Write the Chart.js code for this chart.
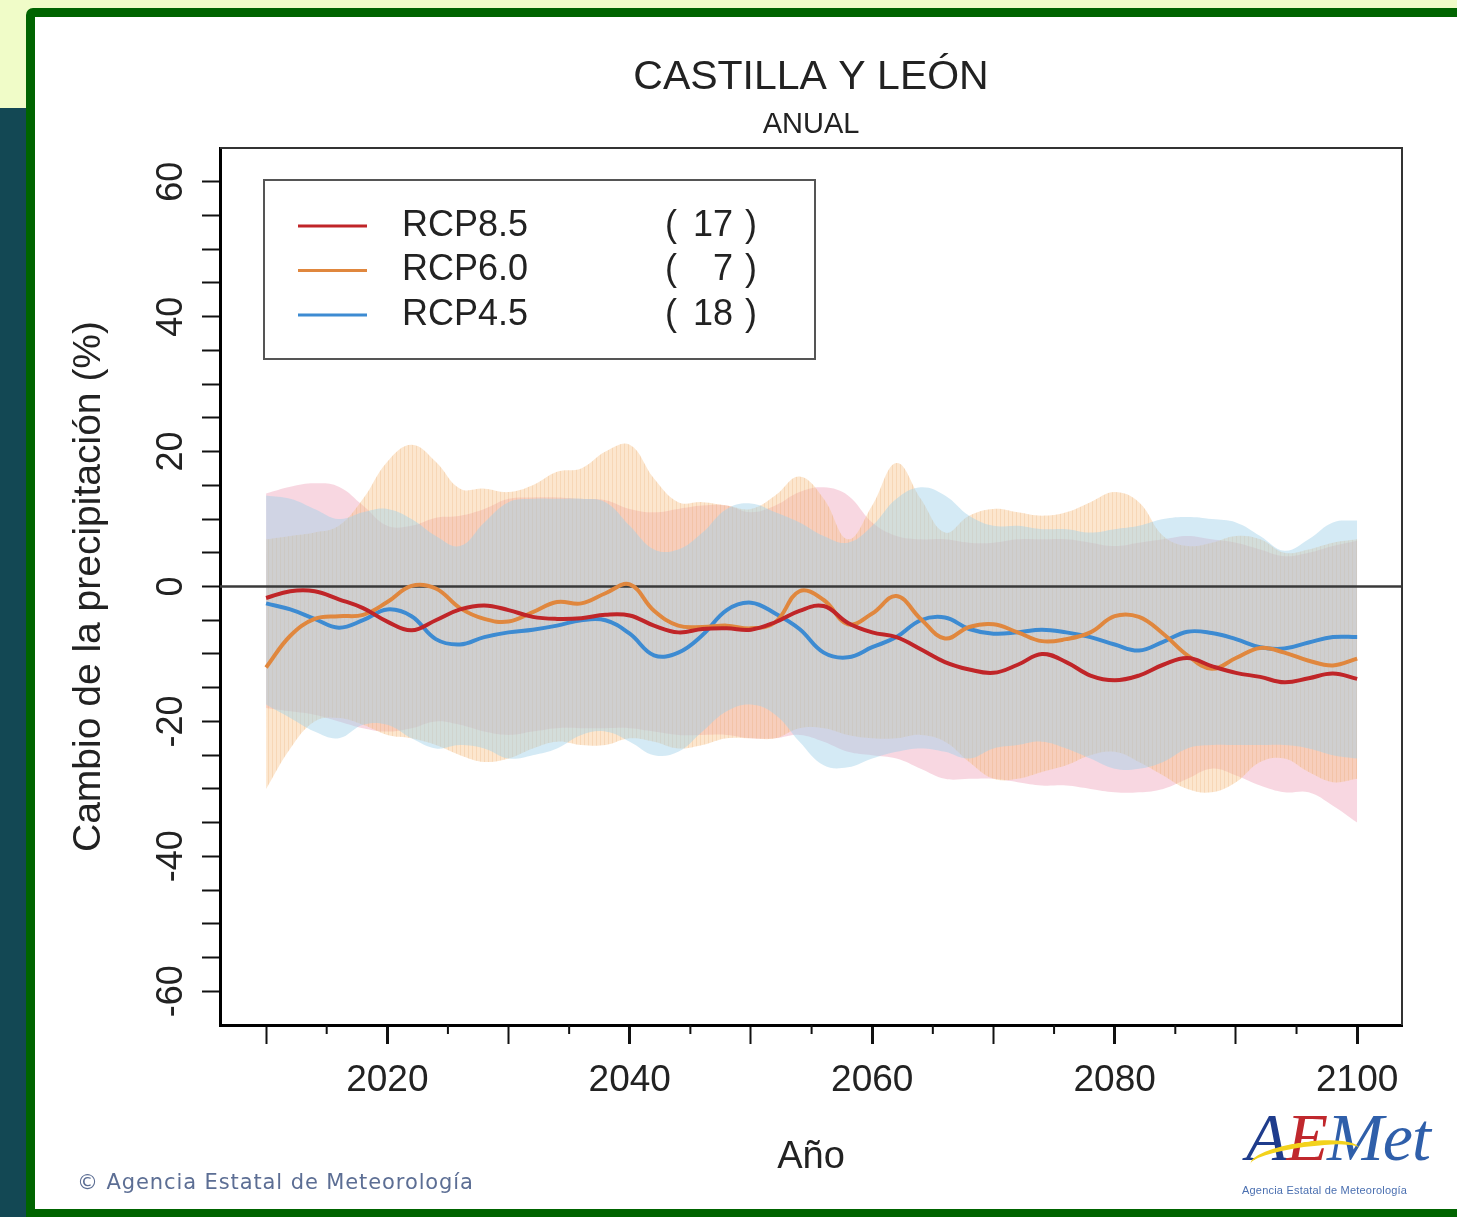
<!DOCTYPE html>
<html>
<head>
<meta charset="utf-8">
<script src="https://cdn.jsdelivr.net/npm/chart.js@4"></script>
<style>
  html, body { margin:0; padding:0; }
  body { width:1457px; height:1217px; background:#f0fcc8; position:relative; overflow:hidden; font-family:'Liberation Sans', Arial, sans-serif; }
  #strip { position:absolute; left:0; top:108px; width:30px; height:1200px; background:#134854; }
  #panel { position:absolute; left:26px; top:8px; width:1460px; height:1210px; box-sizing:border-box; border:9px solid #006400; border-radius:7px 0 0 0; background:#fff; }
  #chart { position:absolute; left:0; top:0; }
  #copy { position:absolute; left:77px; top:1170px; font:21px 'DejaVu Sans', sans-serif; color:#5c6e94; letter-spacing:0.9px; }
  #logo { position:absolute; left:1240px; top:1098px; width:210px; height:110px; }
  #logo .word { position:absolute; left:6px; top:0; font:italic 68px 'Liberation Serif', serif; letter-spacing:-1px; }
  #logo .swoosh { position:absolute; left:10px; top:44px; width:110px; height:24px; border-top:5px solid #f3d21c; border-radius:50%; transform:rotate(-8deg); }
  #logo .sub { position:absolute; left:2px; top:86px; font:11px 'Liberation Sans', sans-serif; color:#4a6fb0; white-space:nowrap; letter-spacing:0.2px; }
</style>
</head>
<body>
<div id="strip"></div>
<div id="panel"></div>
<canvas id="chart" width="1457" height="1217"></canvas>
<div id="copy">© Agencia Estatal de Meteorología</div>
<div id="logo">
  <div class="word"><span style="color:#1f3c8c">A</span><span style="color:#c0282d">E</span><span style="color:#2f5faa">Met</span></div>
  <div class="swoosh"></div>
  <div class="sub">Agencia Estatal de Meteorología</div>
</div>
<script>
const years = [2010,2012,2014,2016,2018,2020,2022,2024,2026,2028,2030,2032,2034,2036,2038,2040,2042,2044,2046,2048,2050,2052,2054,2056,2058,2060,2062,2064,2066,2068,2070,2072,2074,2076,2078,2080,2082,2084,2086,2088,2090,2092,2094,2096,2098,2100];

// ensemble means (%)
const rcp85 = [-1.7,-0.7,-0.7,-1.9,-3.2,-5.2,-6.5,-5.0,-3.4,-2.8,-3.5,-4.5,-4.8,-4.7,-4.2,-4.3,-5.8,-6.8,-6.3,-6.2,-6.4,-5.3,-3.6,-2.9,-5.4,-6.8,-7.5,-9.3,-11.2,-12.3,-12.8,-11.6,-10.0,-11.2,-13.2,-13.9,-13.2,-11.6,-10.6,-11.8,-12.8,-13.4,-14.2,-13.6,-12.9,-13.7];
const rcp60 = [-12.0,-7.3,-4.8,-4.4,-4.2,-2.3,0.1,-0.3,-3.2,-4.8,-5.2,-3.8,-2.3,-2.5,-1.0,0.3,-3.6,-5.8,-6.0,-5.8,-6.2,-5.3,-0.7,-2.0,-5.6,-4.0,-1.4,-4.8,-7.7,-6.0,-5.6,-6.8,-8.1,-7.8,-6.8,-4.4,-4.5,-7.0,-10.2,-12.2,-10.6,-9.1,-9.8,-11.0,-11.7,-10.7];
const rcp45 = [-2.5,-3.4,-4.8,-6.1,-5.0,-3.4,-4.4,-7.8,-8.6,-7.5,-6.8,-6.4,-5.8,-5.0,-5.0,-7.0,-10.2,-9.8,-7.2,-3.5,-2.4,-4.0,-6.3,-9.8,-10.5,-9.0,-7.5,-5.0,-4.6,-6.3,-7.0,-6.8,-6.4,-6.8,-7.5,-8.6,-9.5,-8.2,-6.7,-6.9,-7.8,-9.0,-9.2,-8.3,-7.5,-7.5];

// model spread (%)
const rcp85Max = [13.8,14.8,15.3,14.8,12.0,9.0,9.0,10.2,10.5,11.5,13.0,13.2,13.2,13.0,12.8,11.5,11.0,11.5,12.0,12.0,11.0,12.0,14.0,14.7,13.5,9.5,7.5,7.0,7.0,6.5,6.5,7.0,7.0,7.0,6.5,6.0,6.5,7.0,7.5,7.0,6.5,5.5,4.5,5.0,6.0,6.8];
const rcp85Min = [-18.0,-18.5,-19.0,-20.0,-21.0,-21.5,-21.0,-20.0,-20.5,-21.5,-22.0,-21.5,-21.0,-21.0,-21.0,-21.0,-21.5,-22.0,-22.0,-22.0,-22.5,-22.5,-22.0,-23.0,-24.5,-25.0,-25.5,-27.0,-28.5,-28.5,-28.5,-29.0,-29.5,-29.5,-30.0,-30.5,-30.5,-30.0,-28.5,-27.0,-28.0,-29.5,-30.5,-30.5,-32.5,-35.0];
const rcp60Max = [7.0,7.5,8.0,9.0,13.0,18.5,21.0,18.5,14.5,14.5,14.0,15.0,17.0,17.5,20.0,21.0,16.0,12.5,12.5,12.0,11.5,13.5,16.3,13.0,7.0,12.0,18.3,13.0,8.0,10.5,11.5,11.0,10.5,11.0,12.5,14.0,12.5,7.5,6.0,6.5,7.5,7.0,5.0,5.5,6.5,7.0];
const rcp60Min = [-30.0,-24.0,-20.0,-19.5,-20.5,-22.0,-22.5,-23.5,-25.0,-26.0,-25.5,-24.0,-23.0,-23.5,-23.5,-22.5,-23.0,-24.0,-23.5,-22.5,-22.5,-22.5,-21.0,-21.0,-22.0,-22.5,-22.5,-22.0,-23.0,-26.0,-28.5,-28.5,-27.5,-26.5,-25.0,-24.5,-26.0,-28.0,-30.0,-30.5,-29.0,-26.0,-25.5,-27.5,-29.0,-28.5];
const rcp45Max = [13.5,13.0,11.5,10.0,11.0,11.5,10.0,7.5,6.0,9.5,12.5,13.0,13.0,13.0,12.5,9.0,5.5,5.5,8.0,11.5,12.3,11.0,9.5,7.5,6.5,9.0,13.0,14.7,13.5,10.5,9.0,9.0,8.5,8.5,8.0,8.5,9.0,10.0,10.3,10.0,9.5,7.5,5.3,7.0,9.5,9.8];
const rcp45Min = [-17.5,-19.5,-21.5,-22.5,-20.5,-20.5,-22.5,-24.0,-23.5,-24.0,-25.5,-25.0,-24.0,-22.0,-21.5,-23.0,-25.0,-24.5,-21.5,-18.5,-17.5,-19.0,-23.0,-26.5,-26.8,-25.5,-24.5,-24.0,-24.5,-25.5,-24.0,-23.5,-23.0,-24.0,-25.5,-27.0,-27.0,-26.0,-24.0,-23.5,-23.5,-23.5,-23.5,-24.0,-25.0,-25.5];

const scenarioNames = ['RCP8.5','RCP6.0','RCP4.5'];
const modelCounts = [17, 7, 18];

const yTickValues = [-60,-55,-50,-45,-40,-35,-30,-25,-20,-15,-10,-5,0,5,10,15,20,25,30,35,40,45,50,55,60];
const yLabels = [-60,-40,-20,0,20,40,60];
const xTickValues = [2010,2020,2030,2040,2050,2060,2070,2080,2090,2100];
const xMinorTicks = [2015,2025,2035,2045,2055,2065,2075,2085,2095];
const xLabels = [2020,2040,2060,2080,2100];

const FONT = "'Liberation Sans', Arial, sans-serif";
Chart.defaults.font.family = FONT;
Chart.defaults.color = '#222';

const pts = arr => years.map((x, i) => ({ x, y: arr[i] }));

// faint vertical hatching for the RCP6.0 spread
function hatch() {
  const c = document.createElement('canvas');
  c.width = 4; c.height = 4;
  const g = c.getContext('2d');
  g.fillStyle = 'rgba(248,196,138,0.42)';
  g.fillRect(0, 0, 4, 4);
  g.clearRect(0, 0, 1, 4);
  g.fillStyle = 'rgba(240,176,110,0.5)';
  g.fillRect(0, 0, 1, 4);
  return g.createPattern(c, 'repeat');
}

const lineDs = (label, arr, color, order) => ({
  label, data: pts(arr), borderColor: color, borderWidth: 4, pointRadius: 0, tension: 0.4, fill: false, order
});
const bandDs = (arr, fill, bg, order) => ({
  data: pts(arr), borderColor: 'transparent', borderWidth: 0, pointRadius: 0, tension: 0.4, fill, backgroundColor: bg, order
});

const frame = {
  id: 'frame',
  beforeDatasetDraw(chart, args) {
    if (args.index !== 2) return;
    const { ctx, chartArea: a, scales: { y } } = chart;
    const y0 = y.getPixelForValue(0);
    ctx.save();
    ctx.strokeStyle = '#3a3a3a'; ctx.lineWidth = 2.5;
    ctx.beginPath(); ctx.moveTo(a.left, y0); ctx.lineTo(a.right, y0); ctx.stroke();
    ctx.restore();
  },
  afterDraw(chart) {
    const { ctx, chartArea: a, scales: { x, y } } = chart;
    ctx.save();
    // top and right of the box
    ctx.strokeStyle = '#333'; ctx.lineWidth = 2;
    ctx.beginPath();
    ctx.moveTo(a.left, a.top); ctx.lineTo(a.right, a.top); ctx.lineTo(a.right, a.bottom);
    ctx.stroke();
    // short half-decade ticks
    ctx.strokeStyle = '#111'; ctx.lineWidth = 2;
    xMinorTicks.forEach(v => {
      const px = x.getPixelForValue(v);
      ctx.beginPath(); ctx.moveTo(px, a.bottom); ctx.lineTo(px, a.bottom + 9); ctx.stroke();
    });
    // rotated y labels
    ctx.fillStyle = '#222';
    ctx.font = '36px ' + FONT;
    ctx.textAlign = 'center'; ctx.textBaseline = 'middle';
    yLabels.forEach(v => {
      ctx.save();
      ctx.translate(172, y.getPixelForValue(v));
      ctx.rotate(-Math.PI / 2);
      ctx.fillText(String(v), 0, 0);
      ctx.restore();
    });
    // legend box
    const bx = 264, by = 180, bw = 551, bh = 179;
    ctx.strokeStyle = '#555'; ctx.lineWidth = 2;
    ctx.strokeRect(bx, by, bw, bh);
    ctx.font = '36px ' + FONT;
    ctx.textBaseline = 'middle';
    scenarioNames.forEach((name, i) => {
      const ry = 226 + i * 44.5;
      ctx.strokeStyle = chart.data.datasets[i].borderColor; ctx.lineWidth = 3;
      ctx.beginPath(); ctx.moveTo(298, ry); ctx.lineTo(367, ry); ctx.stroke();
      ctx.textAlign = 'left';
      ctx.fillText(name, 402, ry);
      ctx.fillText('(', 665, ry);
      ctx.fillText(')', 745, ry);
      ctx.textAlign = 'right';
      ctx.fillText(String(modelCounts[i]), 733, ry);
    });
    ctx.restore();
  }
};

new Chart(document.getElementById('chart'), {
  type: 'line',
  data: {
    datasets: [
      lineDs('RCP8.5', rcp85, '#c02528', 1),
      lineDs('RCP6.0', rcp60, '#e0873e', 2),
      lineDs('RCP4.5', rcp45, '#3d8bd2', 3),
      bandDs(rcp45Max, '+1', 'rgba(160,208,232,0.45)', 10),
      bandDs(rcp45Min, false, 'transparent', 10),
      bandDs(rcp60Max, '+1', hatch(), 11),
      bandDs(rcp60Min, false, 'transparent', 11),
      bandDs(rcp85Max, '+1', 'rgba(240,172,192,0.48)', 12),
      bandDs(rcp85Min, false, 'transparent', 12)
    ]
  },
  options: {
    responsive: false,
    animation: false,
    layout: { padding: { top: 20, left: 0, right: 55, bottom: 0 } },
    plugins: {
      legend: { display: false },
      tooltip: { enabled: false },
      title: { display: true, text: 'CASTILLA Y LEÓN', fullSize: false, color: '#222', font: { size: 41, weight: 'normal' }, padding: { top: 33.4, bottom: 0 } },
      subtitle: { display: true, text: 'ANUAL', fullSize: false, color: '#222', font: { size: 29, weight: 'normal' }, padding: { top: 5, bottom: 5.6 } }
    },
    scales: {
      x: {
        type: 'linear', min: 2006.2, max: 2103.7,
        afterBuildTicks: s => { s.ticks = xTickValues.map(v => ({ value: v })); },
        afterFit: s => { s.height = 192; },
        ticks: { autoSkip: false, maxRotation: 0, padding: 15, font: { size: 37 }, color: '#222',
          callback: v => xLabels.includes(v) ? String(v) : '' },
        grid: { drawOnChartArea: false, drawTicks: true, tickLength: 19, tickColor: '#111',
          tickWidth: c => (c.tick && c.tick.value % 20 === 0) ? 3 : 2 },
        border: { display: true, color: '#000', width: 3 },
        title: { display: true, text: 'Año', color: '#222', font: { size: 38 }, padding: { top: 0, bottom: 37 } }
      },
      y: {
        min: -65, max: 65,
        afterBuildTicks: s => { s.ticks = yTickValues.map(v => ({ value: v })); },
        afterFit: s => { s.width = 220; },
        ticks: { display: false },
        grid: { drawOnChartArea: false, drawTicks: true, tickLength: 18, tickColor: '#111', tickWidth: 2 },
        border: { display: true, color: '#000', width: 3 },
        title: { display: true, text: 'Cambio de la precipitación (%)', color: '#222', font: { size: 39 }, padding: { top: 66, bottom: 0 } }
      }
    }
  },
  plugins: [frame]
});
</script>
</body>
</html>
